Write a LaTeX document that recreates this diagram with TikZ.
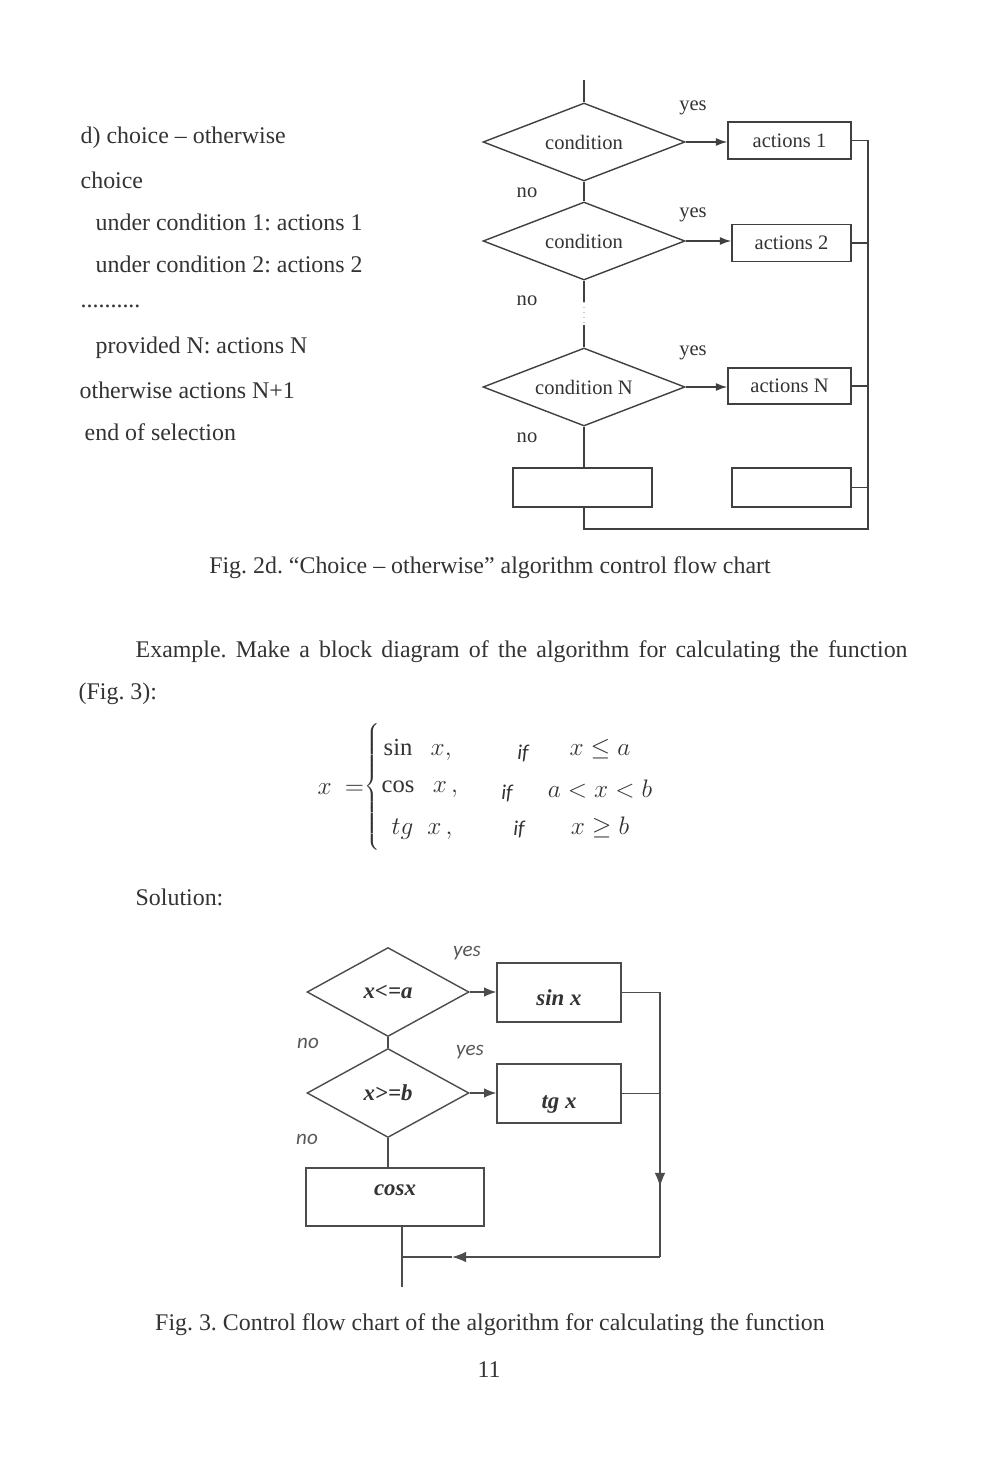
\documentclass[tikz,border=0pt]{standalone}
\usepackage{fontspec}
\setmainfont{Liberation Serif}
\newfontfamily\calibfont{Carlito}
\usetikzlibrary{shapes.geometric,arrows.meta}
\frenchspacing

\tikzset{
  body/.style={font=\fontsize{13.6}{16}\selectfont, text=black!80, inner sep=0pt},
  small/.style={font=\fontsize{11.7}{14}\selectfont, text=black!80},
  cond/.style={diamond, draw=black!75, inner sep=0pt, aspect=2.59,
    minimum width=4.04cm, minimum height=1.56cm, small},
  act/.style={rectangle, draw=black!75, inner sep=0pt, minimum height=0.74cm, small},
  cond2/.style={diamond, draw=black!70, inner sep=0pt, aspect=1.82,
    minimum width=3.24cm, minimum height=1.78cm, boldit},
  blk2/.style={rectangle, draw=black!70, inner sep=0pt,
    minimum width=2.48cm, minimum height=1.18cm, boldit},
  boldit/.style={font=\fontsize{13}{15}\selectfont\bfseries\itshape, text=black!80},
  ans/.style={font=\fontsize{12}{14}\calibfont\itshape, text=black!65},
  formula/.style={font=\fontsize{14}{17}\selectfont, text=black!80, inner sep=0pt},
}

\begin{document}
\begin{tikzpicture}[x=0.02cm, y=-0.02cm, >={Latex[length=6.5pt,width=4.5pt]}, line width=0.8pt]

  % page
  \fill[white] (0,0) rectangle (1000,1463);
  \useasboundingbox (0,0) rectangle (1000,1463);

  % ================= pseudocode =================
  \node[body, anchor=west] (p1) at (80,138) {d) choice -- otherwise};
  \node[body, anchor=west] (p2) at (80,180) {choice};
  \node[body, anchor=west] (p3) at (95,222) {under condition 1: actions 1};
  \node[body, anchor=west] (p4) at (95,264) {under condition 2: actions 2};
  \node[body, anchor=west] (p5) at (80,306) {..........};
  \node[body, anchor=west] (p6) at (95,348) {provided N: actions N};
  \node[body, anchor=west] (p7) at (79,390) {otherwise actions N+1};
  \node[body, anchor=west] (p8) at (84,432) {end of selection};

  % ================= Fig. 2d =================
  % conditions
  \node[cond] (c1) at (584,142) {condition};
  \node[cond] (c2) at (584,241) {condition};
  \node[cond] (cN) at (584,387) {condition N};

  % actions
  \node[act, minimum width=2.46cm] (a1) at (789.5,140.5) {actions 1};
  \node[act, minimum width=2.38cm] (a2) at (791.5,243) {actions 2};
  \node[act, minimum width=2.46cm, minimum height=0.72cm] (aN) at (789.5,386) {actions N};
  \node[act, minimum width=2.78cm, minimum height=0.78cm] (eL) at (582.5,487.5) {};
  \node[act, minimum width=2.38cm, minimum height=0.78cm] (eR) at (791.5,487.5) {};

  % yes / no
  \node[small] (y1) at (693,108) {yes};
  \node[small] (y2) at (693,215) {yes};
  \node[small] (yN) at (693,353) {yes};
  \node[small] (n1) at (527,193) {no};
  \node[small] (n2) at (527,301) {no};
  \node[small] (nN) at (527,438) {no};

  % flow lines
  \coordinate (in1) at (584,80);
  \coordinate (gapA) at (584,302);
  \coordinate (gapB) at (584,325);
  \coordinate (bus) at (868,529);
  \draw[black!75] (in1) -- (c1.north);
  \draw[black!75] (c1.south) -- (c2.north);
  \draw[black!75] (c2.south) -- (gapA);
  \draw[black!20, dotted] (gapA) -- (gapB);
  \draw[black!75] (gapB) -- (cN.north);
  \draw[black!75] (cN.south) -- (eL.north -| cN.south);
  \draw[black!75, ->] (c1.east) -- (c1.east -| a1.west);
  \draw[black!75, ->] (c2.east) -- (c2.east -| a2.west);
  \draw[black!75, ->] (cN.east) -- (cN.east -| aN.west);
  \draw[black!75] (a1.east) -- (a1.east -| bus) -- (bus) -- (bus -| cN.south) -- (eL.south -| cN.south);
  \draw[black!75] (a2.east) -- (a2.east -| bus);
  \draw[black!75] (aN.east) -- (aN.east -| bus);
  \draw[black!75] (eR.east) -- (eR.east -| bus);

  \node[body] (cap2d) at (490,568) {Fig. 2d. ``Choice -- otherwise'' algorithm control flow chart};

  % ================= example text =================
  \node[body, anchor=west] (ex1) at (135,652)
    {\makebox[15.44cm][s]{Example. Make a block diagram of the algorithm for calculating the function}};
  \node[body, anchor=west] (ex2) at (78,694) {(Fig. 3):};

  % formula
  \node[formula] (fx) at (341,789) {$x\ =$};
  \node[formula] (fbr) at (373,787) {$\left\{\rule[-1.15cm]{0pt}{2.3cm}\right.$};
  \node[formula, anchor=west] (f1) at (383,750) {$\sin\;\;x,$};
  \node[formula, anchor=west] (f2) at (381,789) {$\cos\;\;x\,,$};
  \node[formula, anchor=west] (f3) at (391,829) {$tg\;\;x\,,$};
  \node[ans, text=black!80] (i1) at (523,753) {if};
  \node[ans, text=black!80] (i2) at (507,793) {if};
  \node[ans, text=black!80] (i3) at (519,829) {if};
  \node[formula] (g1) at (600,749) {$x \le a$};
  \node[formula] (g2) at (600,789) {$a < x < b$};
  \node[formula] (g3) at (600,827) {$x \ge b$};

  \node[body, anchor=west] (sol) at (135,897) {Solution:};

  % ================= Fig. 3 =================
  \node[cond2] (d1) at (388,992) {x<=a};
  \node[cond2] (d2) at (388,1093) {x>=b};
  \node[blk2] (sn) at (559,992.5) {\raisebox{-7.5pt}[0pt][0pt]{sin x}};
  \node[blk2] (tg) at (559,1093.5) {\raisebox{-8.3pt}[0pt][0pt]{tg x}};
  \node[blk2, minimum width=3.56cm, minimum height=1.16cm] (cs) at (395,1197) {\raisebox{1pt}[0pt][0pt]{cosx}};

  \node[ans] (ya) at (467,953) {yes};
  \node[ans] (yb) at (470,1052) {yes};
  \node[ans] (na) at (308,1043) {no};
  \node[ans] (nb) at (307,1139) {no};

  \coordinate (rb) at (660,1257);
  \coordinate (dn) at (660,1187);
  \coordinate (lf) at (452,1257);
  \coordinate (out) at (402,1287);
  \draw[black!70] (d1.south) -- (d2.north);
  \draw[black!70] (d2.south) -- (cs.north -| d2.south);
  \draw[black!70, -{Latex[length=7pt,width=5.5pt]}] (d1.east) -- (d1.east -| sn.west);
  \draw[black!70, -{Latex[length=7pt,width=5.5pt]}] (d2.east) -- (d2.east -| tg.west);
  \draw[black!70] (sn.east) -| (rb);
  \draw[black!70, -{Latex[length=8pt,width=6pt]}] (sn.east -| rb) -- (dn);
  \draw[black!70] (tg.east) -- (tg.east -| rb);
  \draw[black!70, -{Latex[length=8pt,width=6pt]}] (rb) -- (lf);
  \draw[black!70] (lf) -- (rb -| out);
  \draw[black!70] (cs.south -| out) -- (out);

  \node[body] (cap3) at (490,1325) {Fig. 3. Control flow chart of the algorithm for calculating the function};
  \node[body] (pg) at (489,1370) {11};

\end{tikzpicture}
\end{document}
